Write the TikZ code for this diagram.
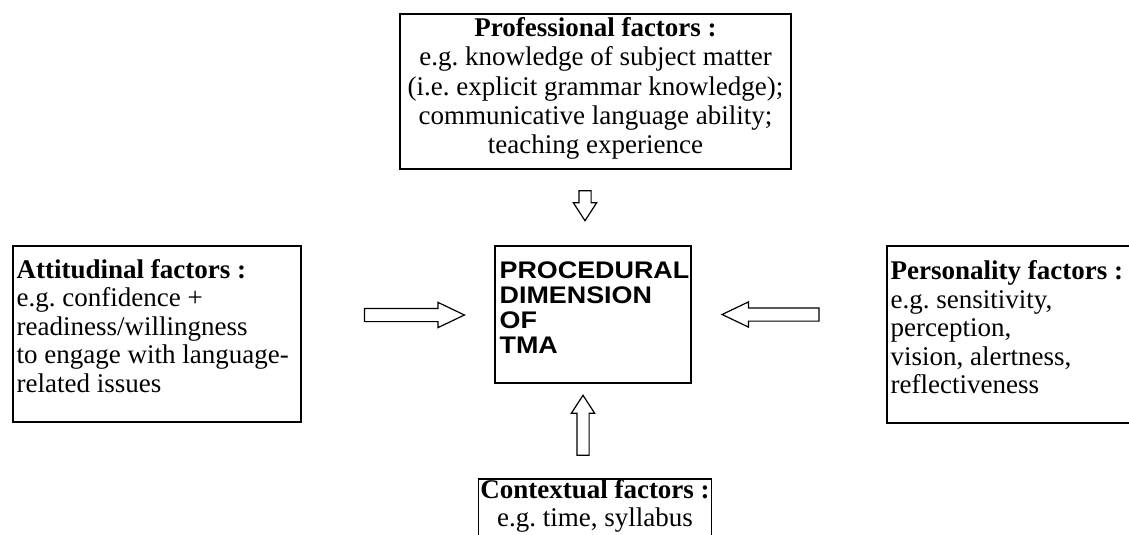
\documentclass[tikz,border=0pt]{standalone}
\usepackage{fontspec}
\setmainfont{Liberation Serif}
\newfontfamily\capsfont[FakeStretch=1.12]{Liberation Sans}
\usetikzlibrary{shapes.arrows,calc}
\begin{document}
\frenchspacing
\begin{tikzpicture}[x=1pt,y=-1pt,
  frame/.style={draw, line width=1.1pt, inner sep=0pt},
  factortext/.style={inner sep=0pt, font=\fontsize{27}{28.5}\selectfont},
  coretext/.style={inner sep=0pt, font=\capsfont\bfseries\fontsize{24}{25}\selectfont},
  harrow/.style={single arrow, draw, line width=1.2pt, fill=white,
    inner sep=6pt, single arrow head extend=6pt, single arrow tip angle=51,
    minimum height=100pt},
  varrow/.style={single arrow, draw, line width=1.2pt, fill=white,
    inner sep=5.5pt, single arrow head extend=5.5pt, single arrow tip angle=66}]
\useasboundingbox (0,0) rectangle (1129,535);
\clip (0,0) rectangle (1129,535);

% professional factors (top)
\node[frame, minimum width=391pt, minimum height=155pt] (prof) at (595.5,91.5) {};
\node[factortext, align=center, font=\fontsize{27}{29.3}\selectfont] (profT) at ($(prof.center)+(0,-3)$)
  {\textbf{Professional factors :}\\ e.g. knowledge of subject matter\\ (i.e. explicit grammar knowledge);\\ communicative language ability;\\ teaching experience};

% attitudinal factors (left)
\node[frame, minimum width=288pt, minimum height=176pt] (att) at (157,334) {};
\node[factortext, align=left, anchor=west] (attT) at ($(att.west)+(4,-8)$)
  {\textbf{Attitudinal factors :}\\ e.g. confidence +\\ readiness/willingness\\ to engage with language-\\ related issues};

% personality factors (right, runs past the edge)
\node[frame, minimum width=248pt, minimum height=177pt] (pers) at (1011,334.5) {};
\node[factortext, align=left, anchor=west] (persT) at ($(pers.west)+(4,-7)$)
  {\textbf{Personality factors :}\\ e.g. sensitivity,\\ perception,\\ vision, alertness,\\ reflectiveness};

% contextual factors (bottom, runs past the edge)
\node[factortext, align=center, anchor=north] (ctx) at (595,479)
  {\textbf{Contextual factors :}\\ e.g. time, syllabus};
\draw[line width=1.1pt] ($(ctx.north west)+(-2,70)$) -- ($(ctx.north west)+(-2,0)$)
  -- ($(ctx.north east)+(2,0)$) -- ($(ctx.north east)+(2,70)$);

% central box
\node[frame, minimum width=196pt, minimum height=137pt] (proc) at (593,314.5) {};
\node[coretext, align=left, anchor=west] (procT) at ($(proc.west)+(5,-7)$)
  {PROCEDURAL\\ DIMENSION\\ OF\\ TMA};

% block arrows pointing at the central box
\node[harrow] (a1) at (407.5,315) {};
\node[harrow, shape border rotate=180, minimum height=97pt] (a2) at (777.5,314.5) {};
\node[varrow, shape border rotate=270, minimum height=30pt] (a3) at (585,201) {};
\node[varrow, shape border rotate=90, minimum height=60pt] (a4) at (583,430) {};
\end{tikzpicture}
\end{document}
